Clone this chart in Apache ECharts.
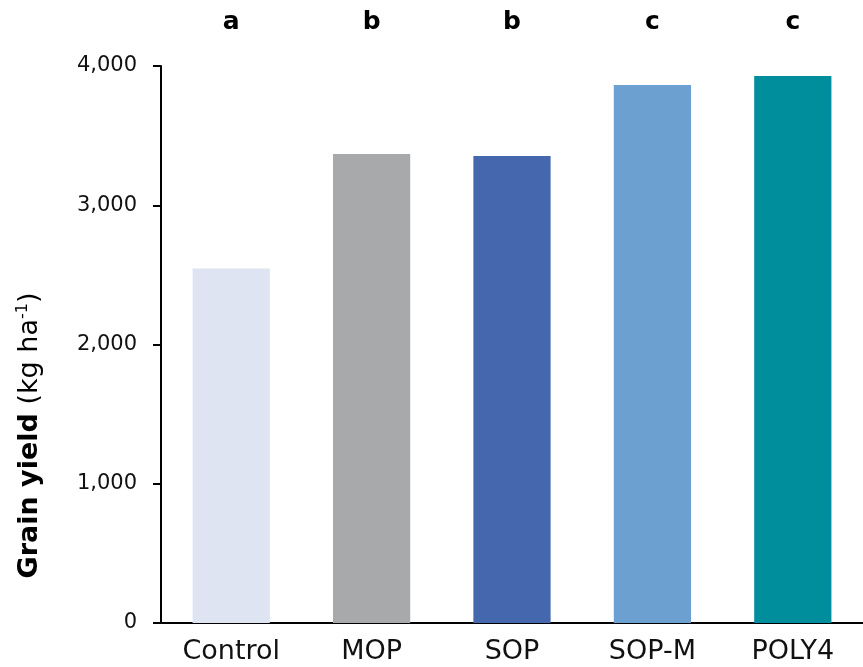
<!DOCTYPE html>
<html><head><meta charset="utf-8">
<script src="https://cdn.jsdelivr.net/npm/echarts@6/dist/echarts.min.js"></script>
<style>html,body{margin:0;padding:0;background:#fff}#c{width:863px;height:667px}</style>
</head><body><div id="c"></div>
<script>
const categories = ['Control', 'MOP', 'SOP', 'SOP-M', 'POLY4'];
const yieldValues = [2545, 3368, 3354, 3864, 3928];
const letters = ['a', 'b', 'b', 'c', 'c'];
const barColors = ['#DEE4F2', '#A8A9AB', '#4467AE', '#6CA0D1', '#008E9C'];
const yTicks = [0, 1000, 2000, 3000, 4000];

const FONT = '"DejaVu Sans", sans-serif';
const chart = echarts.init(document.getElementById('c'));
chart.setOption({
  animation: false,
  grid: { left: 161, top: 66, width: 712, height: 557, containLabel: false },
  xAxis: [{
    type: 'category', data: categories, position: 'bottom',
    axisLine: { lineStyle: { color: '#000', width: 2 } },
    axisTick: { show: false },
    axisLabel: { color: '#111', fontSize: 27, fontFamily: FONT, margin: 15 }
  }, {
    type: 'category', data: letters, position: 'top',
    axisLine: { show: false }, axisTick: { show: false },
    axisLabel: { color: '#000', fontSize: 25, fontWeight: 'bold', fontFamily: FONT, margin: 31 }
  }],
  yAxis: {
    type: 'value', min: yTicks[0], max: yTicks[yTicks.length - 1], interval: 1000,
    axisLine: { show: true, lineStyle: { color: '#000', width: 2 } },
    axisTick: { show: true, length: 8, lineStyle: { color: '#000', width: 2 } },
    splitLine: { show: false },
    axisLabel: {
      color: '#111', fontSize: 21, fontFamily: FONT, margin: 24,
      formatter: v => v.toLocaleString('en-US')
    },
    name: '{b|Grain yield}{n| (kg ha}{s|-1}{n|)}',
    nameLocation: 'middle', nameGap: 117, nameRotate: 90,
    nameTextStyle: {
      padding: [0, 182, 0, 0],
      rich: {
        b: { fontSize: 27, fontWeight: 'bold', fontFamily: FONT, color: '#000' },
        n: { fontSize: 27, fontFamily: FONT, color: '#000' },
        s: { fontSize: 16, fontFamily: FONT, color: '#000', verticalAlign: 'top', padding: [0, 0, 13, 0] }
      }
    }
  },
  series: [{
    type: 'bar', barWidth: '55%',
    data: yieldValues.map((v, i) => ({ value: v, itemStyle: { color: barColors[i] } }))
  }]
});
</script></body></html>
